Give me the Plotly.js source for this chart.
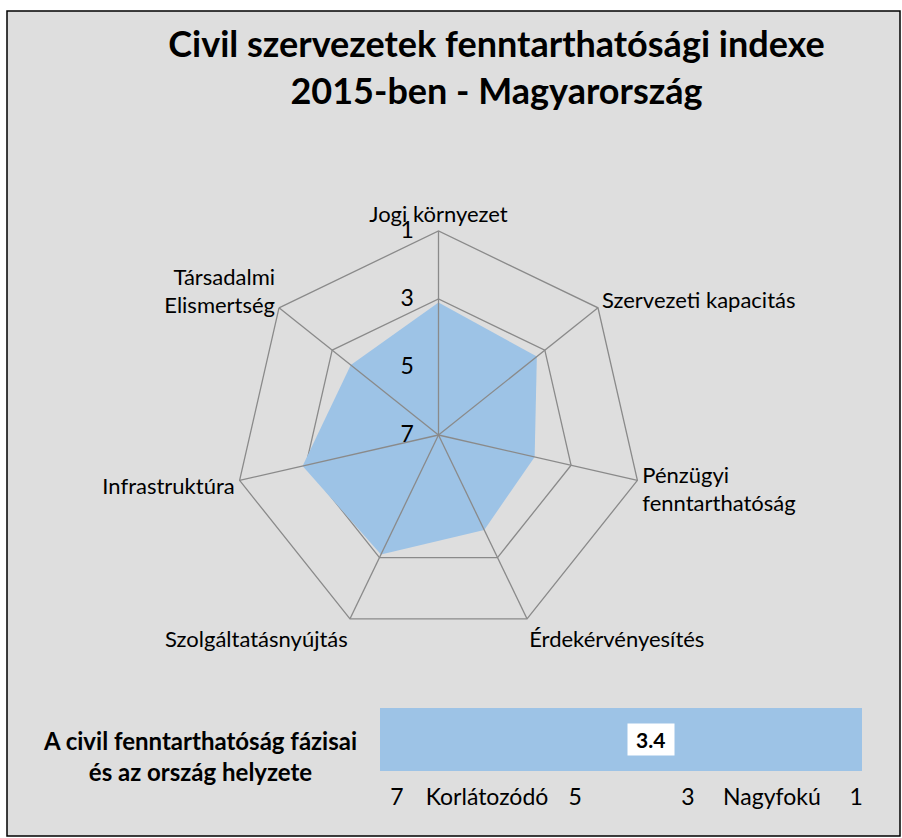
<!DOCTYPE html>
<html>
<head>
<meta charset="utf-8">
<script src="https://cdn.plot.ly/plotly-3.0.1.min.js"></script>
<style>html,body{margin:0;padding:0;background:#fff;}#chart{width:902px;height:838px;}</style>
</head>
<body>
<div id="chart"></div>
<script>
// ---- data ----
var categories = ['Jogi környezet', 'Szervezeti kapacitás', 'Pénzügyi<br>fenntarthatóság', 'Érdekérvényesítés', 'Szolgáltatásnyújtás', 'Infrastruktúra', 'Társadalmi<br>Elismertség'];
var scores = [3.1, 3.3, 4.1, 3.9, 3.1, 2.9, 3.7];
var radialTicks = [1, 3, 5, 7];
var overallScore = 3.4;
var phaseScale = [7, 1];
var phaseLabels = ['7', 'Korlátozódó', '5', '3', 'Nagyfokú', '1'];

// ---- layout helpers ----
var W = 902, H = 838;
var FONT = 'Lato, "Open Sans", sans-serif';
var GRID = '#8a8a8a';
function px(x) { return x / W; }
function py(y) { return 1 - y / H; }

// centre and radius of the radar in pixels
var cx = 438.5, cy = 435, R = 204;

// closed polygon
var rClosed = scores.concat([scores[0]]);
var tClosed = categories.concat([categories[0]]);

// spokes drawn over the fill
var spokeR = [], spokeT = [];
categories.forEach(function (c) {
  spokeR.push(radialTicks[radialTicks.length - 1], radialTicks[0], null);
  spokeT.push(c, c, c);
});

// positions of phase labels along the bar axis (fractions of bar width)
var phaseFrac = [0.035, 0.222, 0.405, 0.639, 0.813, 0.988];
var phaseVals = phaseFrac.map(function (f) { return phaseScale[0] + f * (phaseScale[1] - phaseScale[0]); });

var traces = [
  {
    type: 'scatterpolar', r: rClosed, theta: tClosed, mode: 'lines', fill: 'toself',
    fillcolor: '#9dc3e6', line: { width: 0, color: '#9dc3e6' }, hoverinfo: 'skip', showlegend: false
  },
  {
    type: 'scatterpolar', r: spokeR, theta: spokeT, mode: 'lines',
    line: { width: 1.3, color: GRID }, hoverinfo: 'skip', showlegend: false, connectgaps: false
  },
  {
    type: 'bar', orientation: 'h', y: [0], x: [phaseScale[1] - phaseScale[0]], base: [phaseScale[0]],
    width: 1, marker: { color: '#9dc3e6', line: { width: 0 } }, xaxis: 'x', yaxis: 'y',
    hoverinfo: 'skip', showlegend: false
  }
];

var layout = {
  width: W, height: H,
  margin: { l: 0, r: 0, t: 0, b: 0 },
  paper_bgcolor: '#ffffff',
  plot_bgcolor: 'rgba(0,0,0,0)',
  font: { family: FONT, color: '#000' },
  showlegend: false,
  title: {
    text: '<b>Civil szervezetek fenntarthatósági indexe<br>2015-ben - Magyarország</b>',
    font: { family: FONT, size: 36, color: '#000' },
    x: px(496.5), xanchor: 'center', y: py(57), yanchor: 'middle', xref: 'paper', yref: 'paper'
  },
  shapes: [{
    type: 'rect', xref: 'paper', yref: 'paper', layer: 'below',
    x0: px(7), x1: px(900), y0: py(836), y1: py(11),
    fillcolor: '#dedede', line: { color: '#000', width: 1.5 }
  }],
  polar: {
    domain: { x: [px(cx - R), px(cx + R)], y: [py(cy + R), py(cy - R)] },
    bgcolor: 'rgba(0,0,0,0)',
    gridshape: 'linear',
    angularaxis: {
      direction: 'clockwise', rotation: 90, type: 'category',
      showgrid: false, showline: true, linecolor: GRID, linewidth: 1.3,
      ticks: '', tickfont: { family: FONT, size: 22, color: '#000' }
    },
    radialaxis: {
      range: [radialTicks[radialTicks.length - 1], radialTicks[0]],
      tickvals: radialTicks, ticktext: radialTicks.map(String),
      angle: 90, side: 'counterclockwise', tickangle: 90,
      showline: false, showgrid: true, gridcolor: GRID, gridwidth: 1.3,
      ticks: 'outside', ticklen: 16, tickcolor: 'rgba(0,0,0,0)',
      tickfont: { family: FONT, size: 23, color: '#000' }
    }
  },
  xaxis: {
    domain: [px(380), px(862)], anchor: 'y', range: phaseScale,
    tickvals: phaseVals, ticktext: phaseLabels, ticks: 'outside', ticklen: 5, tickcolor: 'rgba(0,0,0,0)',
    showgrid: false, zeroline: false, showline: false,
    tickfont: { family: FONT, size: 23, color: '#000' }
  },
  yaxis: {
    domain: [py(771), py(708)], anchor: 'x', range: [-0.5, 0.5],
    showticklabels: false, showgrid: false, zeroline: false, showline: false
  },
  annotations: [
    {
      xref: 'x', yref: 'y', x: overallScore, y: 0, xshift: -18,
      text: '<b>&nbsp;' + overallScore.toFixed(1) + '&nbsp;</b>', showarrow: false,
      bgcolor: '#ffffff', borderpad: 3,
      font: { family: FONT, size: 21, color: '#000' }
    },
    {
      xref: 'paper', yref: 'paper', x: px(200), y: py(756), xanchor: 'center', yanchor: 'middle',
      text: '<b>A civil fenntarthatóság fázisai<br>és az ország helyzete</b>', showarrow: false,
      font: { family: FONT, size: 24, color: '#000' }
    }
  ]
};

Plotly.newPlot('chart', traces, layout, { displayModeBar: false, staticPlot: true });
</script>
</body>
</html>
